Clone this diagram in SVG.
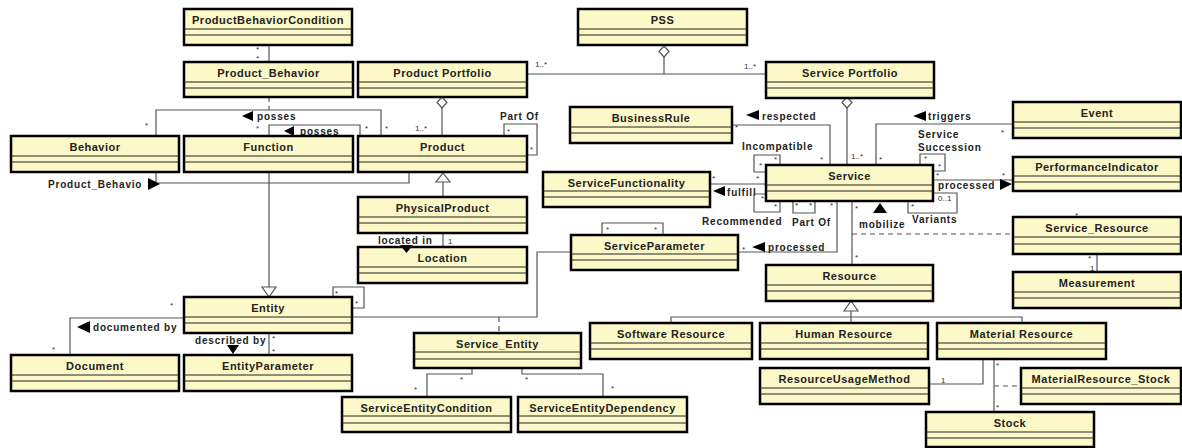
<svg xmlns="http://www.w3.org/2000/svg" width="1182" height="448" viewBox="0 0 1182 448">
<style>
.n rect{fill:#fcf8c8;stroke:#000;stroke-width:2.5}
.n line{stroke:#222;stroke-width:1}
.n text{font-family:"Liberation Sans",Arial,sans-serif;font-size:11px;font-weight:bold;letter-spacing:0.5px;text-anchor:middle;fill:#222}
.c path{fill:none;stroke:#555;stroke-width:1.2}
.c .d{stroke-dasharray:5,4}
.t{font-family:"Liberation Sans",Arial,sans-serif;font-size:10px;font-weight:bold;letter-spacing:0.8px;fill:#222}
.m{font-family:"Liberation Sans",Arial,sans-serif;font-size:8px;fill:#333}
.a{fill:#000}
.h{fill:#fff;stroke:#555;stroke-width:1.2}
</style>
<rect width="1182" height="448" fill="#fff"/>
<g id="connectors" class="c">
<path d="M269,46V62"/><text class="m" x="256" y="52">*</text><text class="m" x="256" y="61">*</text>
<path class="d" d="M269,97V110"/>
<path d="M156,136V110H381V136"/><text class="m" x="145" y="128">*</text><text class="m" x="385" y="131">*</text>
<polygon class="a" points="242,116 253,111 253,121"/><text class="t" x="257" y="120">posses</text>
<path d="M269,136V125H360V136"/><text class="m" x="256" y="131">*</text><text class="m" x="365" y="131">*</text>
<polygon class="a" points="284,131 294,126 294,136"/><text class="t" x="300" y="135">posses</text>
<path d="M156,172V183H409V172"/>
<text class="t" x="48" y="188">Product_Behavio</text><polygon class="a" points="148,178 160,184 148,190"/>
<path d="M269,172V288"/><polygon class="h" points="269,297 262,287 276,287"/>
<path d="M442,108V136"/><polygon class="h" points="442,97 447,102.5 442,108 437,102.5"/><text class="m" x="415" y="131">1..*</text>
<path d="M504,136V124H537V155H527"/><text class="t" x="500" y="120">Part Of</text><text class="m" x="507" y="134">*</text><text class="m" x="530" y="152">*</text>
<path d="M443,182V197"/><polygon class="h" points="443,173 450,182 436,182"/>
<path d="M443,233V247"/><text class="m" x="448" y="244">1</text>
<text class="t" x="378" y="244">located in</text>
<path d="M527,74H766"/><path d="M664,57V74"/><polygon class="h" points="664,46 669,51.5 664,57 659,51.5"/>
<text class="m" x="535" y="67">1..*</text><text class="m" x="744" y="69">1..*</text>
<path d="M847,108V165"/><polygon class="h" points="847,97 852,102.5 847,108 842,102.5"/><text class="m" x="851" y="159">1..*</text>
<path d="M732,125H830V165"/><polygon class="a" points="746,115 759,110 759,120"/><text class="t" x="762" y="120">respected</text>
<text class="m" x="735" y="130">*</text><text class="m" x="820" y="162">*</text>
<path d="M780,165V155H754V172H766"/><text class="t" x="742" y="150">Incompatible</text>
<text class="m" x="759" y="168">*</text><text class="m" x="774" y="162">*</text>
<path d="M710,184H766"/><polygon class="a" points="713,191 725,186 725,196"/><text class="t" x="727" y="196">fulfill</text>
<text class="m" x="712" y="181">*</text><text class="m" x="756" y="181">*</text>
<path d="M766,194H754V212H780V201"/><text class="m" x="761" y="201">*</text><text class="m" x="774" y="209">*</text>
<text class="t" x="702" y="225">Recommended</text>
<path d="M793,201V213H815V201"/><text class="m" x="795" y="208">*</text><text class="m" x="809" y="208">*</text>
<text class="t" x="792" y="226">Part Of</text>
<path d="M837,201V252H738"/><polygon class="a" points="752,247 765,242 765,252"/><text class="t" x="768" y="251">processed</text>
<text class="m" x="742" y="252">*</text><text class="m" x="830" y="208">*</text>
<path d="M602,235V223H663V235"/><text class="m" x="606" y="232">*</text><text class="m" x="654" y="232">*</text>
<path d="M852,201V265"/><text class="m" x="855" y="211">*</text><text class="m" x="855" y="260">*</text>
<polygon class="a" points="880,203 887,213 873,213"/><text class="t" x="859" y="228">mobilize</text>
<path class="d" d="M852,234H1013"/>
<path d="M920,165V154H945V171H933"/><text class="m" x="924" y="161">*</text><text class="m" x="938" y="169">*</text>
<text class="t" x="918" y="138">Service</text><text class="t" x="918" y="151">Succession</text>
<path d="M1013,124H876V165"/><polygon class="a" points="913,116 926,111 926,121"/><text class="t" x="928" y="120">triggers</text>
<text class="m" x="1001" y="135">*</text><text class="m" x="879" y="162">*</text>
<path d="M933,180H1013"/><polygon class="a" points="1000,179 1012,184 1000,190"/><text class="t" x="938" y="189">processed</text>
<text class="m" x="936" y="178">*</text><text class="m" x="1002" y="178">*</text>
<path d="M933,193H957V213H908V201"/><text class="m" x="938" y="201">0..1</text><text class="m" x="911" y="209">*</text>
<text class="t" x="912" y="223">Variants</text>
<path d="M1097,254V272"/><text class="m" x="1088" y="261">*</text><text class="m" x="1090" y="271">1</text>
<text class="m" x="1075" y="218">*</text>
<path d="M851,309V317"/><polygon class="h" points="851,301 858,311 844,311"/>
<path d="M671,323V317H1022V323"/><path d="M851,317V323"/>
<path d="M994,359V412"/><text class="m" x="996" y="368">*</text><text class="m" x="996" y="410">*</text>
<path class="d" d="M994,386H1021"/>
<path d="M929,384H983V359"/><text class="m" x="941" y="383">1</text>
<path d="M333,297V287H364V308H352"/><text class="m" x="335" y="296">*</text><text class="m" x="355" y="306">*</text>
<path d="M571,252H537V317H352"/><path class="d" d="M499,317V333"/>
<path d="M184,318H70V355"/><polygon class="a" points="77,327 90,321 90,333"/><text class="t" x="93" y="331">documented by</text>
<text class="m" x="170" y="308">*</text><text class="m" x="52" y="352">*</text>
<path d="M269,333V355"/><text class="t" x="195" y="344">described by</text><polygon class="a" points="227,345 239,345 233,354"/>
<text class="m" x="272" y="341">*</text><text class="m" x="272" y="354">*</text>
<path d="M472,368V374H427V397"/><text class="m" x="460" y="382">*</text><text class="m" x="414" y="392">*</text>
<path d="M522,368V374H603V397"/><text class="m" x="525" y="382">*</text><text class="m" x="611" y="391">*</text>
</g>
<g id="ProductBehaviorCondition" class="n"><rect x="184" y="9" width="168" height="36"/><line x1="184" y1="29" x2="352" y2="29"/><line x1="184" y1="35" x2="352" y2="35"/><text x="268" y="24">ProductBehaviorCondition</text></g>
<g id="Product_Behavior" class="n"><rect x="184" y="62" width="169" height="35"/><line x1="184" y1="82" x2="353" y2="82"/><line x1="184" y1="88" x2="353" y2="88"/><text x="268.5" y="77">Product_Behavior</text></g>
<g id="ProductPortfolio" class="n"><rect x="358" y="62" width="169" height="35"/><line x1="358" y1="82" x2="527" y2="82"/><line x1="358" y1="88" x2="527" y2="88"/><text x="442.5" y="77">Product Portfolio</text></g>
<g id="PSS" class="n"><rect x="578" y="9" width="169" height="36"/><line x1="578" y1="29" x2="747" y2="29"/><line x1="578" y1="35" x2="747" y2="35"/><text x="662.5" y="24">PSS</text></g>
<g id="ServicePortfolio" class="n"><rect x="766" y="62" width="168" height="36"/><line x1="766" y1="82" x2="934" y2="82"/><line x1="766" y1="88" x2="934" y2="88"/><text x="850" y="77">Service Portfolio</text></g>
<g id="Behavior" class="n"><rect x="11" y="136" width="168" height="36"/><line x1="11" y1="156" x2="179" y2="156"/><line x1="11" y1="162" x2="179" y2="162"/><text x="95" y="151">Behavior</text></g>
<g id="Function" class="n"><rect x="184" y="136" width="169" height="36"/><line x1="184" y1="156" x2="353" y2="156"/><line x1="184" y1="162" x2="353" y2="162"/><text x="268.5" y="151">Function</text></g>
<g id="Product" class="n"><rect x="358" y="136" width="169" height="36"/><line x1="358" y1="156" x2="527" y2="156"/><line x1="358" y1="162" x2="527" y2="162"/><text x="442.5" y="151">Product</text></g>
<g id="BusinessRule" class="n"><rect x="570" y="107" width="162" height="36"/><line x1="570" y1="127" x2="732" y2="127"/><line x1="570" y1="133" x2="732" y2="133"/><text x="651" y="122">BusinessRule</text></g>
<g id="Event" class="n"><rect x="1013" y="102" width="168" height="36"/><line x1="1013" y1="122" x2="1181" y2="122"/><line x1="1013" y1="128" x2="1181" y2="128"/><text x="1097" y="117">Event</text></g>
<g id="ServiceFunctionality" class="n"><rect x="543" y="172" width="167" height="35"/><line x1="543" y1="191" x2="710" y2="191"/><line x1="543" y1="197" x2="710" y2="197"/><text x="626.5" y="187">ServiceFunctionality</text></g>
<g id="Service" class="n"><rect x="766" y="165" width="167" height="36"/><line x1="766" y1="185" x2="933" y2="185"/><line x1="766" y1="191" x2="933" y2="191"/><text x="849.5" y="180">Service</text></g>
<g id="PerformanceIndicator" class="n"><rect x="1013" y="157" width="168" height="34"/><line x1="1013" y1="176" x2="1181" y2="176"/><line x1="1013" y1="182" x2="1181" y2="182"/><text x="1097" y="171">PerformanceIndicator</text></g>
<g id="PhysicalProduct" class="n"><rect x="358" y="197" width="169" height="36"/><line x1="358" y1="217" x2="527" y2="217"/><line x1="358" y1="223" x2="527" y2="223"/><text x="442.5" y="212">PhysicalProduct</text></g>
<g id="ServiceParameter" class="n"><rect x="571" y="235" width="167" height="35"/><line x1="571" y1="254" x2="738" y2="254"/><line x1="571" y1="260" x2="738" y2="260"/><text x="654.5" y="250">ServiceParameter</text></g>
<g id="Location" class="n"><rect x="358" y="247" width="169" height="36"/><line x1="358" y1="267" x2="527" y2="267"/><line x1="358" y1="273" x2="527" y2="273"/><text x="442.5" y="262">Location</text></g>
<g id="Service_Resource" class="n"><rect x="1013" y="217" width="168" height="37"/><line x1="1013" y1="237" x2="1181" y2="237"/><line x1="1013" y1="244" x2="1181" y2="244"/><text x="1097" y="232">Service_Resource</text></g>
<g id="Resource" class="n"><rect x="766" y="265" width="167" height="36"/><line x1="766" y1="285" x2="933" y2="285"/><line x1="766" y1="291" x2="933" y2="291"/><text x="849.5" y="280">Resource</text></g>
<g id="Measurement" class="n"><rect x="1013" y="272" width="168" height="36"/><line x1="1013" y1="292" x2="1181" y2="292"/><line x1="1013" y1="298" x2="1181" y2="298"/><text x="1097" y="287">Measurement</text></g>
<g id="Entity" class="n"><rect x="184" y="297" width="168" height="36"/><line x1="184" y1="317" x2="352" y2="317"/><line x1="184" y1="323" x2="352" y2="323"/><text x="268" y="312">Entity</text></g>
<g id="SoftwareResource" class="n"><rect x="590" y="323" width="162" height="36"/><line x1="590" y1="343" x2="752" y2="343"/><line x1="590" y1="349" x2="752" y2="349"/><text x="671" y="338">Software Resource</text></g>
<g id="HumanResource" class="n"><rect x="760" y="323" width="168" height="36"/><line x1="760" y1="343" x2="928" y2="343"/><line x1="760" y1="349" x2="928" y2="349"/><text x="844" y="338">Human Resource</text></g>
<g id="MaterialResource" class="n"><rect x="937" y="323" width="169" height="36"/><line x1="937" y1="343" x2="1106" y2="343"/><line x1="937" y1="349" x2="1106" y2="349"/><text x="1021.5" y="338">Material Resource</text></g>
<g id="Document" class="n"><rect x="11" y="355" width="168" height="36"/><line x1="11" y1="375" x2="179" y2="375"/><line x1="11" y1="381" x2="179" y2="381"/><text x="95" y="370">Document</text></g>
<g id="EntityParameter" class="n"><rect x="184" y="355" width="168" height="36"/><line x1="184" y1="375" x2="352" y2="375"/><line x1="184" y1="381" x2="352" y2="381"/><text x="268" y="370">EntityParameter</text></g>
<g id="Service_Entity" class="n"><rect x="414" y="333" width="167" height="35"/><line x1="414" y1="352" x2="581" y2="352"/><line x1="414" y1="359" x2="581" y2="359"/><text x="497.5" y="348">Service_Entity</text></g>
<g id="ServiceEntityCondition" class="n"><rect x="342" y="397" width="169" height="35"/><line x1="342" y1="416" x2="511" y2="416"/><line x1="342" y1="423" x2="511" y2="423"/><text x="426.5" y="412">ServiceEntityCondition</text></g>
<g id="ServiceEntityDependency" class="n"><rect x="518" y="397" width="169" height="35"/><line x1="518" y1="416" x2="687" y2="416"/><line x1="518" y1="423" x2="687" y2="423"/><text x="602.5" y="412">ServiceEntityDependency</text></g>
<g id="ResourceUsageMethod" class="n"><rect x="760" y="368" width="169" height="36"/><line x1="760" y1="388" x2="929" y2="388"/><line x1="760" y1="394" x2="929" y2="394"/><text x="844.5" y="383">ResourceUsageMethod</text></g>
<g id="MaterialResource_Stock" class="n"><rect x="1021" y="368" width="160" height="36"/><line x1="1021" y1="388" x2="1181" y2="388"/><line x1="1021" y1="394" x2="1181" y2="394"/><text x="1101" y="383">MaterialResource_Stock</text></g>
<g id="Stock" class="n"><rect x="926" y="412" width="168" height="35"/><line x1="926" y1="432" x2="1094" y2="432"/><line x1="926" y1="438" x2="1094" y2="438"/><text x="1010" y="427">Stock</text></g>
<polygon class="a" points="400,245 413,245 406.5,253"/>
</svg>
